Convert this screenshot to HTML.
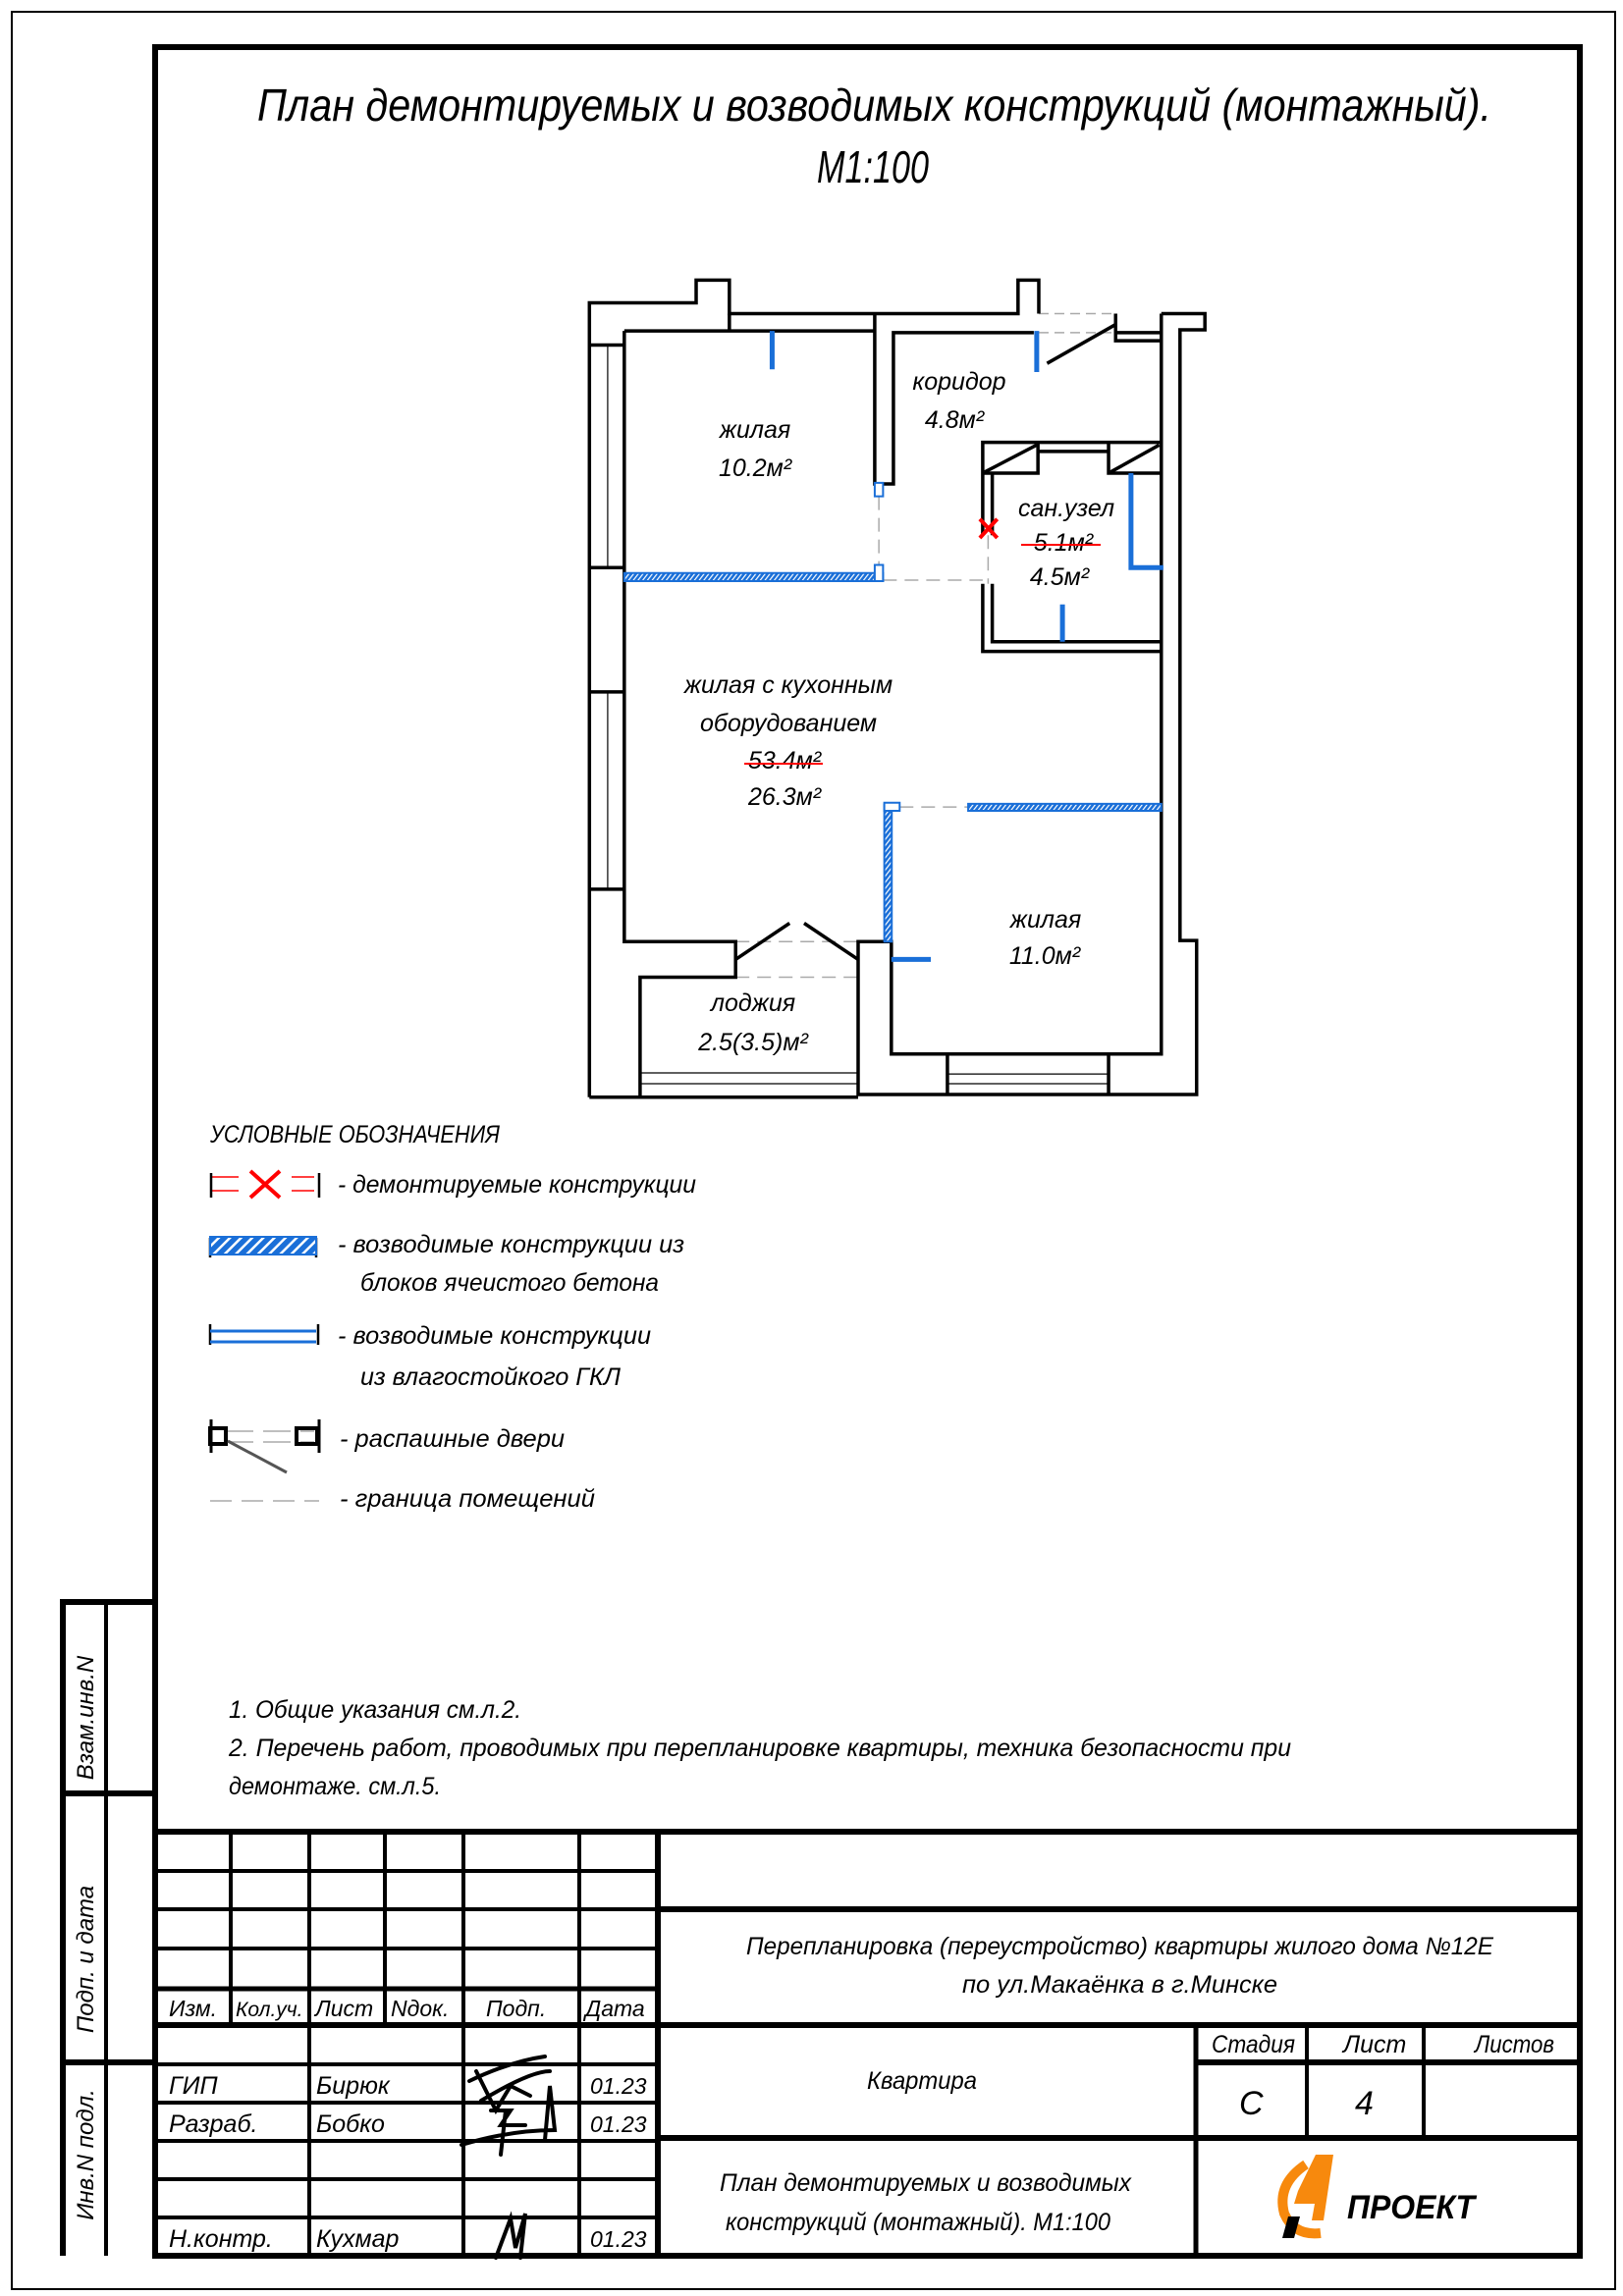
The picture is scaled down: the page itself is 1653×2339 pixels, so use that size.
<!DOCTYPE html>
<html><head><meta charset="utf-8"><style>
html,body{margin:0;padding:0;background:#fff}
svg{display:block}
text{font-family:"Liberation Sans","DejaVu Sans",sans-serif;font-style:italic;fill:#000}
</style></head><body>
<svg width="1653" height="2339" viewBox="0 0 1653 2339" xmlns="http://www.w3.org/2000/svg">
<defs>
<pattern id="h" width="8" height="8" patternUnits="userSpaceOnUse" patternTransform="rotate(45)">
<rect width="8" height="8" fill="#1a6fd8"/><rect width="2.5" height="8" fill="#fff"/></pattern>
</defs>
<rect x="12" y="12" width="1633" height="2320" fill="none" stroke="#000" stroke-width="2"/>
<rect x="158" y="48" width="1451" height="2250" fill="none" stroke="#000" stroke-width="6"/>
<g stroke="#000" stroke-width="6" fill="none">
<path d="M64,2298 V1632 H158 M64,1827 H158 M64,2101 H158"/>
<path d="M108,1632 V2298" stroke-width="4"/>
</g>
<text transform="translate(95,1750) rotate(-90)" font-size="24" text-anchor="middle">Взам.инв.N</text>
<text transform="translate(95,1996) rotate(-90)" font-size="24" text-anchor="middle">Подп. и дата</text>
<text transform="translate(95,2195) rotate(-90)" font-size="24" text-anchor="middle">Инв.N подл.</text>

<text x="262" y="123" font-size="46" textLength="1257" lengthAdjust="spacingAndGlyphs">План демонтируемых и возводимых конструкций (монтажный).</text>
<text x="832" y="186" font-size="46" textLength="114" lengthAdjust="spacingAndGlyphs">М1:100</text>

<g transform="translate(580,270) scale(0.423,0.5505)" fill="none" stroke-linejoin="miter">
<g stroke="#aaa" stroke-width="1.5" vector-effect="non-scaling-stroke">
<path d="M1130,90 H1315 M1130,125 H1315" stroke-dasharray="10 6" vector-effect="non-scaling-stroke"/>
<path d="M745,428 V555 M755,583 H995 M1008,500 V590 M795,1003 H960 M400,1252 H695 M400,1318 H695" stroke-dasharray="14 8" vector-effect="non-scaling-stroke"/>
<path d="M92,148 V560 M92,790 V1155 M170,1495 H695 M170,1515 H695 M910,1497 H1298 M910,1515 H1298" vector-effect="non-scaling-stroke" stroke="#000" stroke-width="1.2"/>
</g>
<g stroke="#000" stroke-width="3.5">
<path vector-effect="non-scaling-stroke" d="M48,1540 V70 H305 V28 H385 V90 H1080 V28 H1130 V90"/>
<path vector-effect="non-scaling-stroke" d="M385,90 V122 H735 M132,122 H735 M132,122 V1252 H400 V1318 H170 V1540 H48"/>
<path vector-effect="non-scaling-stroke" d="M735,90 V405 H780 V125 H1118"/>
<path vector-effect="non-scaling-stroke" d="M48,148 H132 M48,560 H132 M48,790 H132 M48,1155 H132"/>
<path vector-effect="non-scaling-stroke" d="M1315,90 V140 H1425 M1315,125 H1425 M1425,90 H1530 V120 H1470 V1250 H1510 V1535 H695 V1252 H775 V1460 H1425 V90"/>
<path vector-effect="non-scaling-stroke" d="M170,1540 H695 M910,1460 V1535 M1298,1460 V1535"/>
<path vector-effect="non-scaling-stroke" d="M995,500 V328 H1425 M995,590 V715 H1425 M1018,500 V385 M1018,590 V697 H1425"/>
<path vector-effect="non-scaling-stroke" d="M995,385 H1128 V328 M1128,345 H1298 M1298,328 V385 H1425"/>
<path vector-effect="non-scaling-stroke" d="M1000,383 L1125,333 M1303,383 L1420,333 M1150,182 L1315,110 M400,1285 L530,1218 M565,1218 L695,1285"/>
</g>
<g stroke="#1a6fd8" stroke-width="5">
<path vector-effect="non-scaling-stroke" d="M488,122 V193 M1125,122 V198 M1187,628 V697 M1352,385 V560 H1430 M775,1285 H870"/>
</g>
<g stroke="#1a6fd8" stroke-width="2" fill="url(#h)">
<rect vector-effect="non-scaling-stroke" x="132" y="570" width="623" height="15"/>
<rect vector-effect="non-scaling-stroke" x="735" y="403" width="20" height="25" fill="#fff"/>
<rect vector-effect="non-scaling-stroke" x="735" y="555" width="20" height="30" fill="#fff"/>
<rect vector-effect="non-scaling-stroke" x="758" y="998" width="18" height="254"/>
<rect vector-effect="non-scaling-stroke" x="758" y="995" width="37" height="15" fill="#fff"/>
<rect vector-effect="non-scaling-stroke" x="960" y="997" width="465" height="13"/>
</g>
<path d="M988,470 L1030,505 M1030,470 L988,505" stroke="red" stroke-width="4" vector-effect="non-scaling-stroke"/>
</g>
<g font-size="25" text-anchor="middle">
<text x="769" y="446">жилая</text><text x="769" y="485">10.2м²</text>
<text x="977" y="397">коридор</text><text x="972" y="436">4.8м²</text>
<text x="1086" y="526">сан.узел</text><text x="1083" y="561">5.1м²</text><text x="1079" y="596">4.5м²</text>
<text x="803" y="706">жилая с кухонным</text><text x="803" y="745">оборудованием</text>
<text x="799" y="783">53.4м²</text><text x="799" y="820">26.3м²</text>
<text x="1065" y="945">жилая</text><text x="1064" y="982">11.0м²</text>
<text x="767" y="1030">лоджия</text><text x="767" y="1070">2.5(3.5)м²</text>
</g>
<path d="M1040,555 H1121 M758,778 H838" stroke="red" stroke-width="2"/>

<g font-size="25">
<text x="214" y="1164" textLength="295" lengthAdjust="spacingAndGlyphs">УСЛОВНЫЕ ОБОЗНАЧЕНИЯ</text>
<text x="344" y="1215" textLength="365" lengthAdjust="spacingAndGlyphs">- демонтируемые конструкции</text>
<text x="344" y="1276" textLength="353" lengthAdjust="spacingAndGlyphs">- возводимые конструкции из</text>
<text x="367" y="1315" textLength="304" lengthAdjust="spacingAndGlyphs">блоков ячеистого бетона</text>
<text x="344" y="1369" textLength="319" lengthAdjust="spacingAndGlyphs">- возводимые конструкции</text>
<text x="367" y="1411" textLength="265" lengthAdjust="spacingAndGlyphs">из влагостойкого ГКЛ</text>
<text x="346" y="1474" textLength="229" lengthAdjust="spacingAndGlyphs">- распашные двери</text>
<text x="346" y="1535" textLength="260" lengthAdjust="spacingAndGlyphs">- граница помещений</text>
</g>
<g>
<path d="M215,1199 H243 M215,1213 H243 M297,1199 H320 M297,1213 H320" stroke="red" stroke-width="1.5"/>
<path d="M255,1193 L285,1220 M285,1193 L255,1220" stroke="red" stroke-width="4"/>
<path d="M215,1195 V1220 M325,1195 V1220 M214,1261 V1281 M322,1261 V1281 M214,1349 V1370 M324,1349 V1370" stroke="#000" stroke-width="2.5"/>
<rect x="214" y="1260" width="108" height="18" fill="url(#h)" stroke="#1a6fd8" stroke-width="2"/>
<path d="M214,1356 H322 M214,1367 H322" stroke="#1a6fd8" stroke-width="3"/>
<path d="M230,1458 H320 M230,1469 H320" stroke="#aaa" stroke-width="1.5" stroke-dasharray="28 10"/>
<path d="M215,1446 V1480 M325,1446 V1480" stroke="#000" stroke-width="3"/>
<rect x="214" y="1455" width="16" height="16" fill="none" stroke="#000" stroke-width="4"/>
<rect x="302" y="1455" width="21" height="16" fill="none" stroke="#000" stroke-width="4"/>
<path d="M232,1468 L292,1500" stroke="#555" stroke-width="3"/>
<path d="M214,1529 H325" stroke="#aaa" stroke-width="1.5" stroke-dasharray="22 10"/>
</g>

<g font-size="25">
<text x="233" y="1750" textLength="298" lengthAdjust="spacingAndGlyphs">1. Общие указания см.л.2.</text>
<text x="233" y="1789" textLength="1082" lengthAdjust="spacingAndGlyphs">2. Перечень работ, проводимых при перепланировке квартиры, техника безопасности при</text>
<text x="233" y="1828" textLength="216" lengthAdjust="spacingAndGlyphs">демонтаже. см.л.5.</text>
</g>

<g stroke="#000" fill="none">
<path d="M158,1866 H1609" stroke-width="6"/>
<path d="M670,1866 V2298" stroke-width="6"/>
<path d="M670,1945 H1609 M158,2063 H1609 M670,2178 H1609 M1218,2101 H1609" stroke-width="6"/>
<path d="M1218,2063 V2298" stroke-width="5"/>
<path d="M1331,2063 V2178 M1450,2063 V2178" stroke-width="4"/>
<path d="M158,2026 H670" stroke-width="5"/>
<path d="M158,1906 H670 M158,1945 H670 M158,1985 H670 M158,2103 H670 M158,2142 H670 M158,2181 H670 M158,2220 H670 M158,2259 H670" stroke-width="4"/>
<path d="M235,1866 V2063 M392,1866 V2063" stroke-width="4"/>
<path d="M315,1866 V2298 M472,1866 V2298 M590,1866 V2298" stroke-width="4"/>
</g>
<g font-size="25">
<text x="172" y="2054" font-size="23">Изм.</text>
<text x="240" y="2054" font-size="21">Кол.уч.</text>
<text x="321" y="2054" font-size="23">Лист</text>
<text x="398" y="2054" font-size="23">Nдок.</text>
<text x="495" y="2054" font-size="23">Подп.</text>
<text x="596" y="2054" font-size="23">Дата</text>
<text x="172" y="2133">ГИП</text><text x="322" y="2133">Бирюк</text><text x="601" y="2133" font-size="23">01.23</text>
<text x="172" y="2172">Разраб.</text><text x="322" y="2172">Бобко</text><text x="601" y="2172" font-size="23">01.23</text>
<text x="172" y="2289">Н.контр.</text><text x="322" y="2289">Кухмар</text><text x="601" y="2289" font-size="23">01.23</text>
<text x="760" y="1991" textLength="761" lengthAdjust="spacingAndGlyphs">Перепланировка (переустройство) квартиры жилого дома №12Е</text>
<text x="980" y="2030" textLength="321" lengthAdjust="spacingAndGlyphs">по ул.Макаёнка в г.Минске</text>
<text x="883" y="2128" textLength="112" lengthAdjust="spacingAndGlyphs">Квартира</text>
<text x="733" y="2232" textLength="419" lengthAdjust="spacingAndGlyphs">План демонтируемых и возводимых</text>
<text x="739" y="2272" textLength="392" lengthAdjust="spacingAndGlyphs">конструкций (монтажный). М1:100</text>
<text x="1234" y="2091" textLength="85" lengthAdjust="spacingAndGlyphs">Стадия</text><text x="1368" y="2091">Лист</text><text x="1502" y="2091" textLength="81" lengthAdjust="spacingAndGlyphs">Листов</text>
<text x="1262" y="2154" font-size="34">С</text><text x="1380" y="2154" font-size="34">4</text>
</g>
<g stroke="#000" stroke-width="4" fill="none" stroke-linecap="round">
<path d="M478,2120 Q520,2100 555,2095 M485,2110 L505,2150 L520,2125 L540,2135 M490,2140 Q540,2110 560,2110"/>
<path d="M500,2150 L520,2150 L510,2165 L535,2165 M470,2185 Q520,2170 565,2170 L560,2125 L555,2180 M515,2150 L510,2195"/>
<path d="M505,2300 L520,2260 L525,2290 L535,2255 L530,2300"/>
</g>
<g>
<path d="M1330,2205 Q1300,2225 1308,2255 Q1318,2278 1345,2275" stroke="#f7890d" stroke-width="10" fill="none"/>
<path d="M1340,2195 L1358,2195 L1348,2262 L1336,2262 L1339,2245 L1318,2245 L1322,2232 Z" fill="#f7890d"/>
<path d="M1312,2258 L1324,2258 L1318,2280 L1306,2280 Z" fill="#000"/>
<text x="1372" y="2260" font-size="34" font-weight="bold" textLength="130" lengthAdjust="spacingAndGlyphs">ПРОЕКТ</text>
</g>
</svg>
</body></html>
